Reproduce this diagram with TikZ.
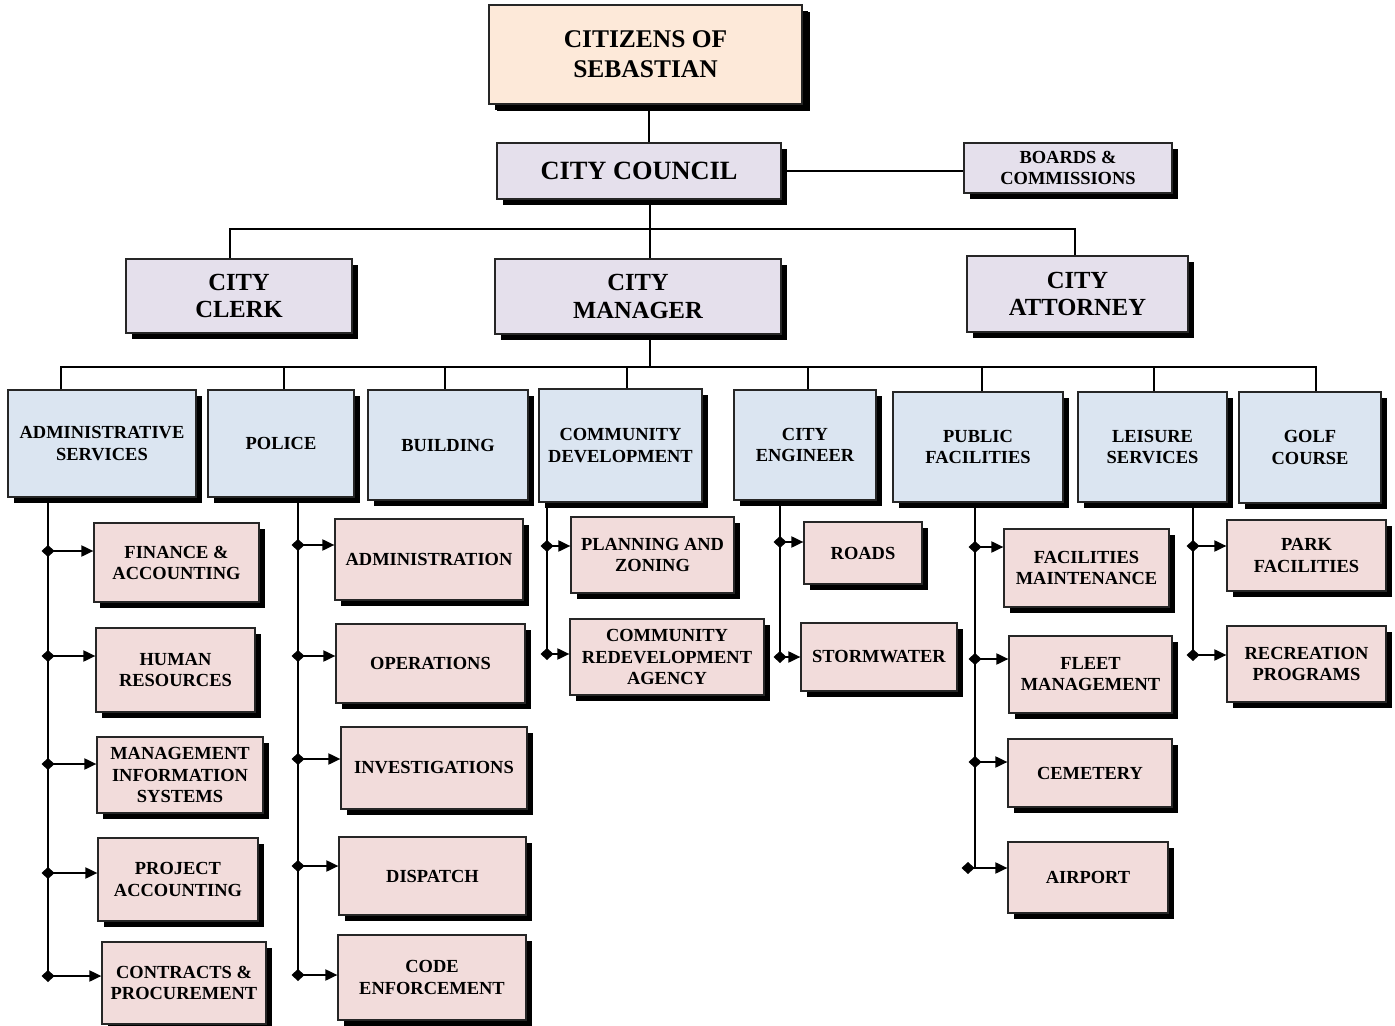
\documentclass[tikz,border=0pt]{standalone}
\usepackage{fontspec}
\setmainfont{Liberation Serif}
\usetikzlibrary{arrows.meta,shadows}
\definecolor{Peach}{HTML}{FDE9D9}
\definecolor{Lavender}{HTML}{E5E0EC}
\definecolor{DeptBlue}{HTML}{DBE5F1}
\definecolor{UnitPink}{HTML}{F2DCDB}

\begin{document}
\begin{tikzpicture}[x=0.02cm,y=-0.02cm,
    box/.style={draw=black!85, line width=0.7pt, align=center, inner sep=1pt,
      font=\bfseries\fontsize{10.5}{12}\selectfont,
      drop shadow={shadow xshift=0.12cm, shadow yshift=-0.12cm, opacity=1, fill=black}},
    sz/.style 2 args={minimum width=#1*0.02cm, minimum height=#2*0.02cm},
    chief/.style={box, fill=Lavender, font=\bfseries\fontsize{14}{15.5}\selectfont},
    dept/.style={box, fill=DeptBlue},
    unit/.style={box, fill=UnitPink},
    link/.style={line width=0.6pt},
    branch/.style={line width=1.1pt, {Diamond[length=0.26cm,width=0.24cm]}-{Triangle[length=0.24cm,width=0.22cm]}}]
    \useasboundingbox (0,0) rectangle (1395,1026);

    % top of the chart
    \node[box, sz={313}{99}, fill=Peach, line width=1.6pt,
      font=\bfseries\fontsize{14.5}{17}\selectfont,
      drop shadow={shadow xshift=0.15cm, shadow yshift=-0.15cm, opacity=1, fill=black}]
      (citizens) at (645.5,54.5) {CITIZENS OF\\SEBASTIAN};
    \node[chief, sz={284}{56}, font=\bfseries\fontsize{15}{17}\selectfont] (council) at (639,171) {CITY COUNCIL};
    \node[box, sz={208}{50}, fill=Lavender] (boards) at (1068,168) {BOARDS \&\\COMMISSIONS};
    \node[chief, sz={226}{74}] (clerk) at (239,296) {CITY\\CLERK};
    \node[chief, sz={286}{75}] (manager) at (638,296.5) {CITY\\MANAGER};
    \node[chief, sz={221}{76}] (attorney) at (1077.5,294) {CITY\\ATTORNEY};

    \draw[link] (citizens.south -| 649,0) -- (council.north -| 649,0);
    \draw[link] (council.east) -- (council.east -| boards.west);
    \draw[link] (council.south -| 650,0) -- (manager.north -| 650,0);
    \coordinate (barL) at (230,229);
    \coordinate (barR) at (1075,229);
    \draw[link] (clerk.north -| barL) -- (barL) -- (barR) -- (attorney.north -| barR);

    % departments
    \node[dept, sz={188}{107}] (admin) at (102,443.5) {ADMINISTRATIVE\\SERVICES};
    \node[dept, sz={146}{107}] (police) at (281,443.5) {POLICE};
    \node[dept, sz={160}{110}] (building) at (448,445) {BUILDING};
    \node[dept, sz={163}{113}] (commdev) at (620.5,445.5) {COMMUNITY\\DEVELOPMENT};
    \node[dept, sz={142}{110}] (engineer) at (805,445) {CITY\\ENGINEER};
    \node[dept, sz={170}{110}] (pubfac) at (978,447) {PUBLIC\\FACILITIES};
    \node[dept, sz={149}{110}] (leisure) at (1152.5,447) {LEISURE\\SERVICES};
    \node[dept, sz={142}{111}] (golf) at (1310,447.5) {GOLF\\COURSE};

    \coordinate (busL) at (61,367);
    \coordinate (busR) at (1316,367);
    \draw[link] (manager.south -| 650,0) -- (650,367);
    \draw[link] (admin.north -| busL) -- (busL) -- (busR) -- (golf.north -| busR);
    \draw[link] (284,367) -- (police.north -| 284,0);
    \draw[link] (445,367) -- (building.north -| 445,0);
    \draw[link] (627,367) -- (commdev.north -| 627,0);
    \draw[link] (808,367) -- (engineer.north -| 808,0);
    \draw[link] (982,367) -- (pubfac.north -| 982,0);
    \draw[link] (1154,367) -- (leisure.north -| 1154,0);

    % administrative services
    \node[unit, sz={165}{79}] (finance) at (176.5,562.5) {FINANCE \&\\ACCOUNTING};
    \node[unit, sz={159}{84}] (hr) at (175.5,670) {HUMAN\\RESOURCES};
    \node[unit, sz={166}{76}] (mis) at (180,775) {MANAGEMENT\\INFORMATION\\SYSTEMS};
    \node[unit, sz={160}{83}] (project) at (178,879.5) {PROJECT\\ACCOUNTING};
    \node[unit, sz={164}{82}] (contracts) at (184,983) {CONTRACTS \&\\PROCUREMENT};
    \coordinate (as1) at (48,551);
    \coordinate (as2) at (48,656);
    \coordinate (as3) at (48,764);
    \coordinate (as4) at (48,873);
    \coordinate (as5) at (48,976);
    \draw[link] (admin.south -| as1) -- (as5);
    \draw[branch] ([xshift=-0.13cm]as1) -- (finance.west |- as1);
    \draw[branch] ([xshift=-0.13cm]as2) -- (hr.west |- as2);
    \draw[branch] ([xshift=-0.13cm]as3) -- (mis.west |- as3);
    \draw[branch] ([xshift=-0.13cm]as4) -- (project.west |- as4);
    \draw[branch] ([xshift=-0.13cm]as5) -- (contracts.west |- as5);

    % police
    \node[unit, sz={188}{81}] (padmin) at (429,559.5) {ADMINISTRATION};
    \node[unit, sz={189}{79}] (operations) at (430.5,663.5) {OPERATIONS};
    \node[unit, sz={186}{82}] (investigations) at (434,768) {INVESTIGATIONS};
    \node[unit, sz={187}{78}] (dispatch) at (432.5,876) {DISPATCH};
    \node[unit, sz={188}{85}] (code) at (432,977.5) {CODE\\ENFORCEMENT};
    \coordinate (ps1) at (298,545);
    \coordinate (ps2) at (298,656);
    \coordinate (ps3) at (298,759);
    \coordinate (ps4) at (298,866);
    \coordinate (ps5) at (298,975);
    \draw[link] (police.south -| ps1) -- (ps5);
    \draw[branch] ([xshift=-0.13cm]ps1) -- (padmin.west |- ps1);
    \draw[branch] ([xshift=-0.13cm]ps2) -- (operations.west |- ps2);
    \draw[branch] ([xshift=-0.13cm]ps3) -- (investigations.west |- ps3);
    \draw[branch] ([xshift=-0.13cm]ps4) -- (dispatch.west |- ps4);
    \draw[branch] ([xshift=-0.13cm]ps5) -- (code.west |- ps5);

    % community development
    \node[unit, sz={163}{76}] (planning) at (652.5,555) {PLANNING AND\\ZONING};
    \node[unit, sz={194}{76}] (cra) at (667,657) {COMMUNITY\\REDEVELOPMENT\\AGENCY};
    \coordinate (cs1) at (547,546);
    \coordinate (cs2) at (547,654);
    \draw[link] (commdev.south -| cs1) -- (cs2);
    \draw[branch] ([xshift=-0.13cm]cs1) -- (planning.west |- cs1);
    \draw[branch] ([xshift=-0.13cm]cs2) -- (cra.west |- cs2);

    % city engineer
    \node[unit, sz={118}{62}] (roads) at (863,553) {ROADS};
    \node[unit, sz={156}{68}] (storm) at (879,657) {STORMWATER};
    \coordinate (es1) at (780,542);
    \coordinate (es2) at (780,657);
    \draw[link] (engineer.south -| es1) -- (es2);
    \draw[branch] ([xshift=-0.13cm]es1) -- (roads.west |- es1);
    \draw[branch] ([xshift=-0.13cm]es2) -- (storm.west |- es2);

    % public facilities
    \node[unit, sz={165}{78}] (facmaint) at (1086.5,568) {FACILITIES\\MAINTENANCE};
    \node[unit, sz={163}{77}] (fleet) at (1090.5,674.5) {FLEET\\MANAGEMENT};
    \node[unit, sz={164}{68}] (cemetery) at (1090,773) {CEMETERY};
    \node[unit, sz={160}{71}] (airport) at (1088,877.5) {AIRPORT};
    \coordinate (fs1) at (975,547);
    \coordinate (fs2) at (975,659);
    \coordinate (fs3) at (975,762);
    \coordinate (fs4) at (975,868);
    \draw[link] (pubfac.south -| fs1) -- (fs4);
    \draw[branch] ([xshift=-0.13cm]fs1) -- (facmaint.west |- fs1);
    \draw[branch] ([xshift=-0.13cm]fs2) -- (fleet.west |- fs2);
    \draw[branch] ([xshift=-0.13cm]fs3) -- (cemetery.west |- fs3);
    \draw[branch] ([xshift=-0.27cm]fs4) -- (airport.west |- fs4);

    % leisure services
    \node[unit, sz={159}{71}] (park) at (1306.5,555.5) {PARK\\FACILITIES};
    \node[unit, sz={159}{76}] (recreation) at (1306.5,664) {RECREATION\\PROGRAMS};
    \coordinate (ls1) at (1193,546);
    \coordinate (ls2) at (1193,655);
    \draw[link] (leisure.south -| ls1) -- (ls2);
    \draw[branch] ([xshift=-0.13cm]ls1) -- (park.west |- ls1);
    \draw[branch] ([xshift=-0.13cm]ls2) -- (recreation.west |- ls2);
\end{tikzpicture}
\end{document}
